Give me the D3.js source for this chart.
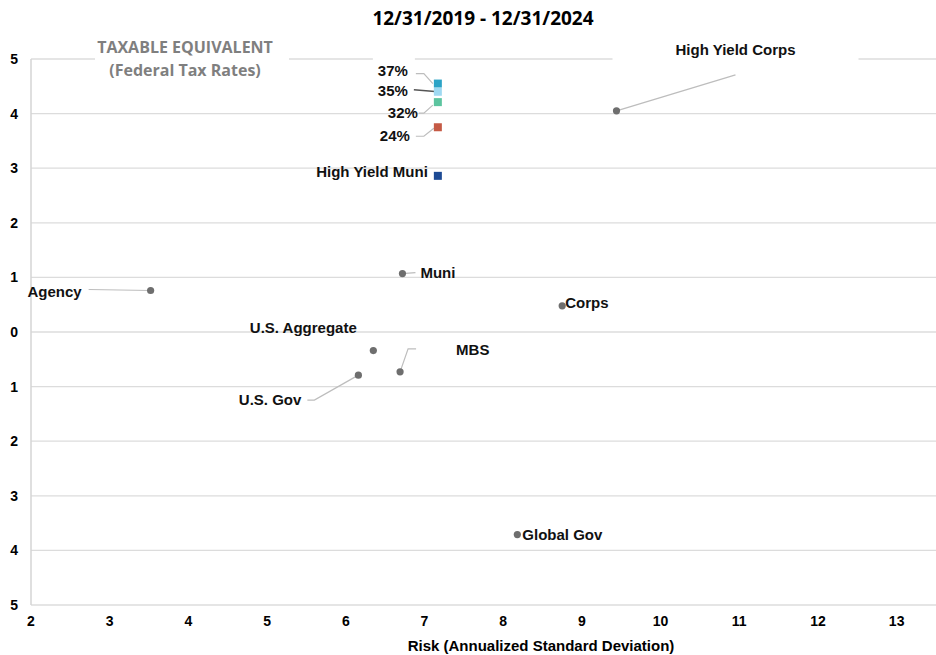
<!DOCTYPE html>
<html>
<head>
<meta charset="utf-8">
<script src="https://cdn.jsdelivr.net/npm/d3@7"></script>
<style>
  body { margin: 0; background: #fff; }
  text { font-family: "Liberation Sans", Arial, sans-serif; font-weight: bold; }
</style>
</head>
<body>
<div id="chart"></div>
<script>
// data
const names = ["High Yield Corps", "37%", "35%", "32%", "24%", "High Yield Muni",
               "Muni", "Agency", "Corps", "U.S. Aggregate", "MBS", "U.S. Gov", "Global Gov"];
const riskValues = [9.44, 7.17, 7.17, 7.17, 7.17, 7.17, 6.72, 3.52, 8.75, 6.35, 6.69, 6.16, 8.18];
const returnValues = [4.05, 4.55, 4.40, 4.21, 3.75, 2.86, 1.07, 0.76, 0.48, -0.34, -0.73, -0.79, -3.71];
const xTicks = [2, 3, 4, 5, 6, 7, 8, 9, 10, 11, 12, 13];
const yTicks = [5, 4, 3, 2, 1, 0, -1, -2, -3, -4, -5];

const title = "12/31/2019 - 12/31/2024";
const xTitle = "Risk (Annualized Standard Deviation)";

// square markers for the muni / taxable-equivalent series
const squareColor = {
  "37%": "#2ba3c6", "35%": "#9fd9f2", "32%": "#5cc49f",
  "24%": "#c55a45", "High Yield Muni": "#1d4a94"
};

// label placement: dx, dy from the point, anchor, and leader path (relative to point)
const labelLayout = {
  "High Yield Corps": { dx: 119, dy: -61, anchor: "middle", leader: [[0, 0], [119, -36]], box: [-4, -70, 246, 24] },
  "37%": { dx: -30, dy: -13, anchor: "end", leader: [[-5, 0], [-14, -10], [-22, -10]], box: [-65, -28, 42, 22] },
  "35%": { dx: -30, dy: -1, anchor: "end", leader: [[0, 0], [-24, -2]], dark: true },
  "32%": { dx: -20, dy: 11, anchor: "end", leader: [[-5, 3], [-14, 11], [-19, 11]] },
  "24%": { dx: -28, dy: 9, anchor: "end", leader: [[-4, 1], [-14, 9], [-22, 9]] },
  "High Yield Muni": { dx: -10, dy: -4, anchor: "end" },
  "Muni": { dx: 18, dy: -1, anchor: "start", leader: [[0, 0], [13, -1]] },
  "Agency": { dx: -69, dy: 1, anchor: "end", leader: [[0, 0], [-62, -1]] },
  "Corps": { dx: 3, dy: -3, anchor: "start" },
  "U.S. Aggregate": { dx: -70, dy: -23, anchor: "middle" },
  "MBS": { dx: 56, dy: -22, anchor: "start", leader: [[0, 0], [8, -23], [16, -23]] },
  "U.S. Gov": { dx: -57, dy: 25, anchor: "end", leader: [[0, 0], [-44, 25], [-51, 25]] },
  "Global Gov": { dx: 5, dy: 0, anchor: "start" }
};

const width = 936, height = 655;
const margin = { top: 59, right: 0, bottom: 50, left: 31 };

const svg = d3.select("#chart").append("svg")
  .attr("width", width)
  .attr("height", height);

const x = d3.scaleLinear().domain([2, 13.5]).range([margin.left, 936]);
const y = d3.scaleLinear().domain([-5, 5]).range([605, margin.top]);

// gridlines
svg.append("g").selectAll("line")
  .data(yTicks)
  .enter().append("line")
  .attr("x1", margin.left)
  .attr("x2", width)
  .attr("y1", d => y(d))
  .attr("y2", d => y(d))
  .style("stroke", "#dcdcdc")
  .style("stroke-width", 1.3);

// left axis line
svg.append("line")
  .attr("x1", margin.left).attr("x2", margin.left)
  .attr("y1", y(5)).attr("y2", y(-5))
  .style("stroke", "#d4d4d4")
  .style("stroke-width", 1.5);

// y tick labels (negative values shown without sign, as in the original)
svg.append("g").selectAll("text")
  .data(yTicks)
  .enter().append("text")
  .attr("x", 18)
  .attr("y", d => y(d) + 5)
  .attr("text-anchor", "end")
  .style("font-size", "14px")
  .text(d => Math.abs(d));

// x tick labels
svg.append("g").selectAll("text")
  .data(xTicks)
  .enter().append("text")
  .attr("x", d => x(d))
  .attr("y", y(-5) + 21)
  .attr("text-anchor", "middle")
  .style("font-size", "14px")
  .text(d => d);

// titles
svg.append("text")
  .attr("x", 483).attr("y", 25)
  .attr("text-anchor", "middle")
  .style("font-family", "'Open Sans', sans-serif")
  .style("font-size", "19px")
  .text(title);

svg.append("text")
  .attr("x", 541).attr("y", 651)
  .attr("text-anchor", "middle")
  .style("font-size", "15px")
  .text(xTitle);

// taxable equivalent heading with white backing over the gridline
svg.append("rect")
  .attr("x", 95).attr("y", 36).attr("width", 194).attr("height", 46)
  .style("fill", "#fff");
const teq = svg.append("text")
  .attr("text-anchor", "middle")
  .style("font-family", "'Open Sans', sans-serif")
  .style("font-size", "16px")
  .style("fill", "#7f7f7f");
teq.append("tspan").attr("x", 185).attr("y", 53).text("TAXABLE EQUIVALENT");
teq.append("tspan").attr("x", 185).attr("y", 76).text("(Federal Tax Rates)");

const points = names.map((n, i) => ({ name: n, risk: riskValues[i], ret: returnValues[i] }));

// label backings
svg.append("g").selectAll("rect")
  .data(points.filter(d => labelLayout[d.name].box))
  .enter().append("rect")
  .attr("x", d => x(d.risk) + labelLayout[d.name].box[0])
  .attr("y", d => y(d.ret) + labelLayout[d.name].box[1])
  .attr("width", d => labelLayout[d.name].box[2])
  .attr("height", d => labelLayout[d.name].box[3])
  .style("fill", "#fff");

// leader lines
const line = d3.line();
svg.append("g").selectAll("path")
  .data(points.filter(d => labelLayout[d.name].leader))
  .enter().append("path")
  .attr("d", d => line(labelLayout[d.name].leader.map(p => [x(d.risk) + p[0], y(d.ret) + p[1]])))
  .style("fill", "none")
  .style("stroke", d => labelLayout[d.name].dark ? "#555" : "#bdbdbd")
  .style("stroke-width", d => labelLayout[d.name].dark ? 1.5 : 1.2);

// dots
svg.append("g").selectAll("circle")
  .data(points.filter(d => !squareColor[d.name]))
  .enter().append("circle")
  .attr("cx", d => x(d.risk))
  .attr("cy", d => y(d.ret))
  .attr("r", 3.6)
  .style("fill", "#6e6e6e");

// squares
svg.append("g").selectAll("rect")
  .data(points.filter(d => squareColor[d.name]))
  .enter().append("rect")
  .attr("x", d => x(d.risk) - 4)
  .attr("y", d => y(d.ret) - 4)
  .attr("width", 8)
  .attr("height", 8)
  .style("fill", d => squareColor[d.name]);

// point labels
svg.append("g").selectAll("text")
  .data(points)
  .enter().append("text")
  .attr("x", d => x(d.risk) + labelLayout[d.name].dx)
  .attr("y", d => y(d.ret) + labelLayout[d.name].dy + 5)
  .attr("text-anchor", d => labelLayout[d.name].anchor)
  .style("font-size", "15px")
  .style("fill", "#111")
  .text(d => d.name);
</script>
</body>
</html>
